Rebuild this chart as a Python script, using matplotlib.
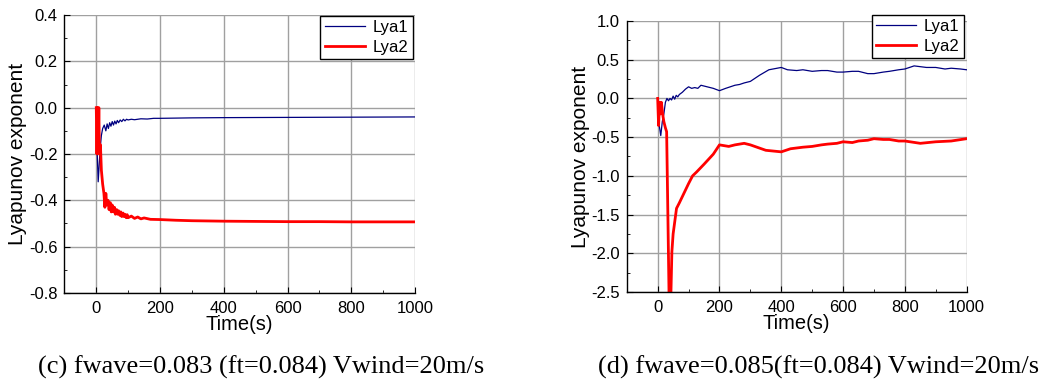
"""
Lyapunov exponent time histories for two wave frequencies (Vwind = 20 m/s).
"""

import matplotlib.pyplot as plt
from matplotlib.ticker import MultipleLocator

plt.rcParams["font.family"] = ["Liberation Sans", "DejaVu Sans"]

# (c) fwave=0.083
t_c1 = [0, 3, 6, 9, 12, 16, 20, 25, 30, 34, 38, 42, 46, 50, 54, 58, 62, 66,
        70, 75, 80, 85, 90, 95, 100, 110, 120, 140, 160, 180, 200, 300, 400,
        600, 800, 1000]
lya1_c = [0, -0.2, -0.32, -0.25, -0.18, -0.12, -0.09, -0.075, -0.1, -0.07,
          -0.09, -0.065, -0.08, -0.06, -0.075, -0.058, -0.07, -0.055, -0.065,
          -0.053, -0.06, -0.05, -0.057, -0.05, -0.053, -0.05, -0.052, -0.048,
          -0.049, -0.046, -0.046, -0.044, -0.043, -0.042, -0.041, -0.04]

t_c2 = [0, 2, 4, 6, 8, 10, 13, 16, 20, 24, 27, 30, 33, 37, 40, 44, 47, 50,
        54, 57, 60, 64, 67, 70, 74, 77, 80, 84, 87, 90, 94, 97, 100, 110,
        120, 130, 140, 150, 170, 200, 250, 300, 400, 500, 600, 700, 800, 900,
        1000]
lya2_c = [0, -0.2, 0, -0.18, 0, -0.2, -0.16, -0.27, -0.33, -0.37, -0.43,
          -0.37, -0.42, -0.40, -0.44, -0.41, -0.45, -0.42, -0.45, -0.43,
          -0.46, -0.44, -0.46, -0.445, -0.465, -0.45, -0.47, -0.455, -0.47,
          -0.46, -0.475, -0.462, -0.475, -0.468, -0.478, -0.472, -0.48,
          -0.476, -0.482, -0.483, -0.486, -0.488, -0.49, -0.491, -0.492,
          -0.492, -0.493, -0.493, -0.493]

# (d) fwave=0.085
t_d1 = [0, 5, 10, 15, 20, 25, 30, 35, 40, 45, 50, 55, 60, 65, 70, 80, 90,
        100, 110, 120, 130, 140, 150, 160, 180, 200, 220, 235, 250, 265, 280,
        300, 330, 360, 400, 420, 450, 470, 500, 530, 550, 580, 600, 630, 650,
        680, 700, 730, 750, 780, 800, 830, 870, 900, 930, 950, 980, 1000]
lya1_d = [0, -0.35, -0.48, -0.3, -0.2, -0.05, 0.0, -0.03, 0.0, -0.02, 0.03,
          -0.01, 0.04, 0.02, 0.05, 0.08, 0.12, 0.15, 0.13, 0.14, 0.13, 0.17,
          0.16, 0.15, 0.13, 0.1, 0.13, 0.15, 0.17, 0.18, 0.2, 0.22, 0.3, 0.37,
          0.4, 0.37, 0.36, 0.37, 0.35, 0.36, 0.36, 0.34, 0.34, 0.35, 0.35,
          0.32, 0.32, 0.34, 0.35, 0.37, 0.38, 0.42, 0.4, 0.4, 0.38, 0.39,
          0.38, 0.37]

t_d2 = [0, 3, 6, 9, 12, 16, 20, 25, 29, 33, 37, 40, 43, 46, 50, 55, 61, 70,
        82, 100, 113, 126, 150, 180, 200, 215, 230, 250, 280, 300, 350, 400,
        430, 470, 500, 530, 550, 580, 600, 630, 650, 680, 700, 730, 750, 780,
        800, 850, 900, 950, 1000]
lya2_d = [0, -0.35, -0.05, -0.2, -0.05, -0.2, -0.3, -0.38, -0.43, -1.5,
          -2.6, -2.8, -2.5, -1.98, -1.75, -1.6, -1.42, -1.35, -1.25, -1.1,
          -1.0, -0.95, -0.85, -0.72, -0.6, -0.61, -0.62, -0.6, -0.58, -0.6,
          -0.67, -0.69, -0.65, -0.63, -0.62, -0.6, -0.59, -0.58, -0.56,
          -0.57, -0.55, -0.54, -0.52, -0.53, -0.53, -0.55, -0.55, -0.58,
          -0.56, -0.55, -0.52]

panels = [
    dict(t1=t_c1, y1=lya1_c, t2=t_c2, y2=lya2_c, ylim=(-0.8, 0.4),
         ystep=0.2, pos=[0.0614, 0.235, 0.3342, 0.7258],
         caption="(c) fwave=0.083 (ft=0.084) Vwind=20m/s", cap_x=0.249,
         leg=(0.994, 0.996)),
    dict(t1=t_d1, y1=lya1_d, t2=t_d2, y2=lya2_d, ylim=(-2.5, 1.0),
         ystep=0.5, pos=[0.5975, 0.2376, 0.324, 0.7076],
         caption="(d) fwave=0.085(ft=0.084) Vwind=20m/s", cap_x=0.78,
         leg=(0.992, 1.022)),
]

fig = plt.figure(figsize=(10.49, 3.83), dpi=100)

for p in panels:
    ax = fig.add_axes(p["pos"])
    ax.plot(p["t1"], p["y1"], color="#000080", linewidth=0.9, label="Lya1")
    ax.plot(p["t2"], p["y2"], color="#ff0000", linewidth=2.0, label="Lya2")

    ax.set_xlim(-100, 1000)
    ax.set_ylim(*p["ylim"])
    ax.xaxis.set_major_locator(MultipleLocator(200))
    ax.xaxis.set_minor_locator(MultipleLocator(100))
    ax.yaxis.set_major_locator(MultipleLocator(p["ystep"]))
    ax.yaxis.set_minor_locator(MultipleLocator(p["ystep"] / 2))
    ax.set_xticks(range(0, 1001, 200))
    ax.grid(True, which="major", color="#a0a0a0", linewidth=1.0)
    ax.set_axisbelow(True)

    for side in ("top", "right"):
        ax.spines[side].set_visible(False)
    for side in ("left", "bottom"):
        ax.spines[side].set_linewidth(1.0)
    ax.tick_params(which="both", direction="in", labelsize=12)
    ax.tick_params(axis="y", pad=5)
    ax.tick_params(axis="x", pad=6)
    ax.tick_params(which="major", length=4)
    ax.tick_params(which="minor", length=2.5)
    ax.set_yticklabels([f"{v:.1f}" for v in ax.get_yticks()])

    ax.set_xlabel("Time(s)", fontsize=14.5, labelpad=-1)
    ax.set_ylabel("Lyapunov exponent", fontsize=15, labelpad=1)

    leg = ax.legend(loc="upper right", bbox_to_anchor=p["leg"], fontsize=12,
                    frameon=True, fancybox=False, edgecolor="black",
                    framealpha=1, handlelength=2.4, borderpad=0.25,
                    labelspacing=0.3, handletextpad=0.5, borderaxespad=0)
    leg.get_frame().set_linewidth(1.0)

    fig.text(p["cap_x"], 0.042, p["caption"], ha="center", va="center",
             fontsize=19, family=["Liberation Serif", "DejaVu Serif"])

fig.savefig("out.png", dpi=100)
